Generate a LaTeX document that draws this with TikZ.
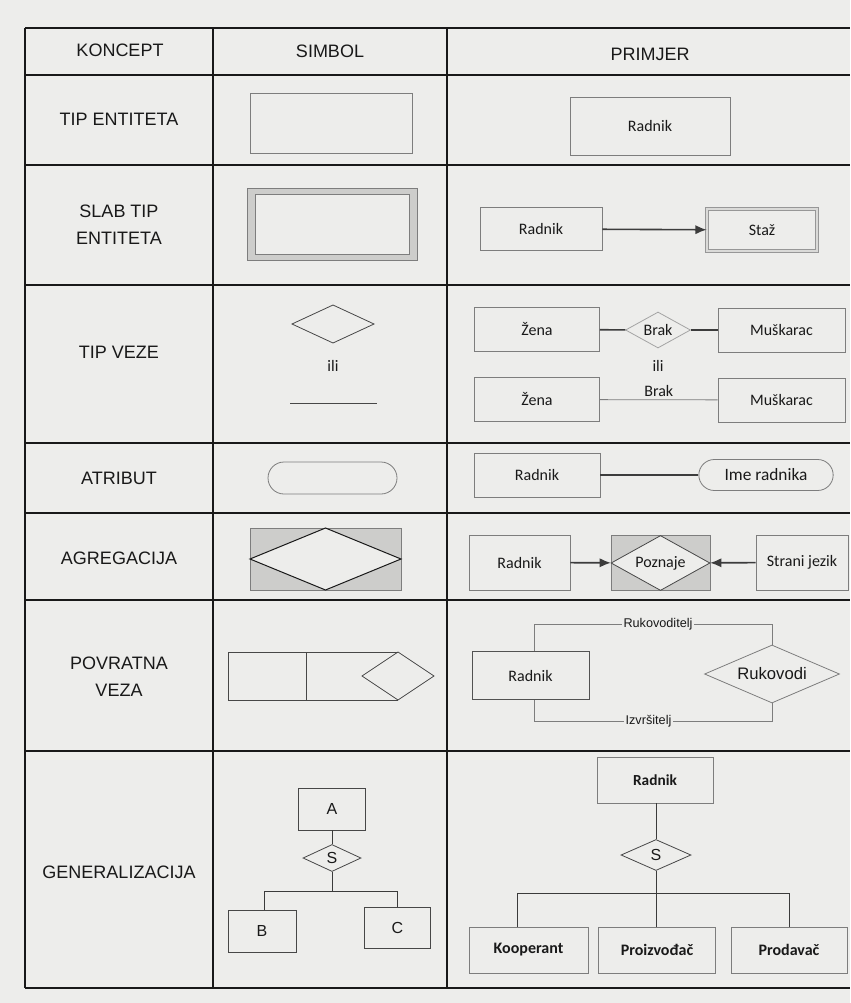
\documentclass[tikz,border=0pt]{standalone}
\usepackage{fontspec}
\setmainfont{Liberation Sans}
\newfontfamily\calibri{Carlito}
\usetikzlibrary{shapes.geometric,shapes.misc,arrows.meta}

\definecolor{paper}{RGB}{237,237,235}
\definecolor{ink}{RGB}{25,25,25}
\definecolor{boxline}{RGB}{125,125,125}
\definecolor{shade}{RGB}{205,205,203}

\tikzset{every picture/.style={line width=0.75pt}}
\tikzset{
  grid line/.style={draw=ink, line width=1.3pt},
  concept/.style={font=\fontsize{13.5}{20}\selectfont, text=ink, align=center, inner sep=0.75pt},
  ent/.style={draw=boxline, line width=0.6pt, rectangle, inner sep=1pt, text=ink, font=\calibri\fontsize{12}{14}\selectfont},
  rel/.style={draw=boxline, line width=0.6pt, diamond, aspect=2, inner sep=1pt, text=ink, font=\calibri\fontsize{12}{14}\selectfont},
  sym/.style={draw=ink!80, line width=0.6pt, rectangle, inner sep=1pt, text=ink, font=\fontsize{12}{14}\selectfont},
  link/.style={draw=ink!85, line width=1.2pt},
  thin link/.style={draw=boxline, line width=0.6pt},
  arr/.style={draw=ink!85, line width=1.2pt, -{Latex[length=8.5pt,width=7pt]}},
  rolelabel/.style={fill=paper, inner sep=1pt, text=ink, font=\fontsize{9.5}{11}\selectfont},
}

\begin{document}
\begin{tikzpicture}[x=0.75pt,y=0.75pt,yscale=-1,xscale=1]
\fill[paper] (0,0) rectangle (850,1003);
\useasboundingbox (0,0) rectangle (850,1003);

% Table grid
\foreach \y in {28,75,165,285,443,513,600,751,988}
  \draw[grid line] (25,\y) -- (850,\y);
\foreach \x in {25,213,447}
  \draw[grid line, line width=1pt] (\x,28) -- (\x,988);

% Header
\node[concept] (hKoncept) at (120,50) {KONCEPT};
\node[concept] (hSimbol) at (330,51) {SIMBOL};
\node[concept] (hPrimjer) at (650,54) {PRIMJER};

% Concept column
\node[concept] (cTip) at (119,119) {TIP ENTITETA};
\node[concept] (cSlab) at (119,225) {SLAB TIP\\ENTITETA};
\node[concept] (cVeza) at (119,352) {TIP VEZE};
\node[concept] (cAtribut) at (119,478) {ATRIBUT};
\node[concept] (cAgreg) at (119,558) {AGREGACIJA};
\node[concept] (cPovrat) at (119,677) {POVRATNA\\VEZA};
\node[concept] (cGeneral) at (119,872) {GENERALIZACIJA};

% Tip entiteta
\draw[boxline, line width=0.6pt] (250,93) rectangle (412,153);
\node[ent, minimum width=120pt, minimum height=43.5pt] (radnikA) at (650,126.5) {Radnik};

% Slab tip entiteta
\draw[boxline, fill=shade, line width=0.6pt] (247,188) rectangle (417,260);
\draw[boxline, fill=paper, line width=0.6pt] (255,194) rectangle (409,254);
\node[ent, minimum width=91.5pt, minimum height=32.25pt] (radnikB) at (541,229) {Radnik};
\node[ent, draw=boxline!80, double=shade!60!paper, double distance=1.8pt, line width=0.5pt, minimum width=82.5pt, minimum height=31.5pt] (stazB) at (762,230) {Staž};
\draw[arr] (radnikB) -- (stazB);

% Tip veze
\draw[ink!80, line width=0.6pt] (292,324) -- (333,305) -- (374,324) -- (333,343) -- cycle;
\node[ent, draw=none] (iliA) at (333,366) {ili};
\draw[ink!80, line width=0.75pt] (290,403) -- (377,403);
\node[ent, minimum width=93.75pt, minimum height=33pt] (zenaA) at (537,329.5) {Žena};
\node[rel, draw=boxline!70, minimum width=48.75pt, minimum height=27pt] (brakA) at (658,330) {Brak};
\node[ent, minimum width=95.25pt, minimum height=33pt] (muskA) at (781.5,330) {Muškarac};
\draw[link] (zenaA) -- (brakA);
\draw[link] (brakA) -- (muskA);
\node[ent, draw=none] (iliB) at (658,366) {ili};
\node[ent, minimum width=93.75pt, minimum height=33pt] (zenaB) at (537,399.5) {Žena};
\node[ent, minimum width=95.25pt, minimum height=33pt] (muskB) at (781.5,400) {Muškarac};
\draw[thin link] (zenaB) -- node[ent, draw=none, above=1pt] (brakB) {Brak} (muskB);

% Atribut
\draw[boxline, line width=0.6pt, rounded corners=12pt] (268,462) rectangle (397,494);
\node[ent, minimum width=94.5pt, minimum height=33pt] (radnikD) at (537,475) {Radnik};
\node[ent, rounded rectangle, minimum width=102.75pt, minimum height=23.25pt, font=\calibri\fontsize{13}{15}\selectfont] (imeD) at (766,475) {Ime radnika};
\draw[link] (radnikD) -- (imeD);

% Agregacija
\draw[boxline, fill=shade, line width=0.6pt] (250,528) rectangle (401,590);
\draw[ink, fill=paper, line width=0.75pt] (250,559) -- (325.5,528) -- (401,559) -- (325.5,590) -- cycle;
\node[ent, minimum width=75.75pt, minimum height=41.25pt] (radnikE) at (519.5,562.5) {Radnik};
\node[ent, fill=shade, minimum width=74.25pt, minimum height=41.25pt] (poznajeBox) at (660.5,563) {};
\node[rel, draw=ink!80, fill=paper, minimum width=74.25pt, minimum height=41.25pt] (poznaje) at (660.5,563) {Poznaje};
\node[ent, minimum width=69pt, minimum height=41.25pt] (straniE) at (802,562.5) {Strani jezik};
\draw[arr] (radnikE) -- (poznaje);
\draw[arr] (straniE) -- (poznaje);

% Povratna veza
\draw[ink!80, line width=0.6pt] (228,652) rectangle (306,700);
\draw[ink!80, line width=0.6pt] (306,652) -- (398,652) (306,700) -- (398,700);
\draw[ink!80, line width=0.6pt] (362,676) -- (398,652) -- (434,676) -- (398,700) -- cycle;
\node[ent, draw=ink!75, minimum width=87.75pt, minimum height=36pt] (radnikF) at (530.5,675.5) {Radnik};
\node[rel, aspect=2.3, minimum width=101.25pt, minimum height=43.5pt, font=\fontsize{12.5}{14}\selectfont] (rukovodi) at (772,674) {Rukovodi};
\draw[thin link] ([xshift=3pt]radnikF.north) -- ++(0,-27) -| node[pos=0.26, rolelabel] (rukovoditelj) {Rukovoditelj} (rukovodi.north);
\draw[thin link] ([xshift=3pt]radnikF.south) -- ++(0,21) -| node[pos=0.24, rolelabel] (izvrsitelj) {Izvršitelj} (rukovodi.south);

% Generalizacija
\node[sym, minimum width=50.25pt, minimum height=31.5pt] (symA) at (332,809) {A};
\node[sym, diamond, aspect=2, minimum width=43.5pt, minimum height=20.25pt] (symS) at (332,858) {S};
\node[sym, minimum width=51pt, minimum height=31.5pt] (symB) at (262,931) {B};
\node[sym, minimum width=49.5pt, minimum height=30.75pt] (symC) at (397.5,928) {C};
\coordinate (barA) at (332,891);
\draw[ink!85, line width=0.6pt] (symA) -- (symS);
\draw[ink!85, line width=0.6pt] (symS) -- (barA);
\draw[ink!85, line width=0.6pt] ([xshift=2pt]symB.north) |- (barA) -| (symC.north);

\node[ent, minimum width=87pt, minimum height=34.5pt, font=\calibri\bfseries\fontsize{11.5}{13}\selectfont] (radnikG) at (655,780) {Radnik};
\node[rel, draw=ink!80, minimum width=52.5pt, minimum height=23.25pt, font=\fontsize{12}{14}\selectfont] (genS) at (656,855) {S};
\node[ent, minimum width=89.25pt, minimum height=34.5pt, font=\calibri\bfseries\fontsize{12}{14}\selectfont] (kooperant) at (528.5,950) {Kooperant};
\node[ent, minimum width=87.75pt, minimum height=34.5pt, font=\calibri\bfseries\fontsize{12}{14}\selectfont] (proizvodjac) at (657,950) {Proizvođač};
\node[ent, minimum width=87pt, minimum height=34.5pt, font=\calibri\bfseries\fontsize{12}{14}\selectfont] (prodavac) at (789,950) {Prodavač};
\coordinate (barG) at (656,893);
\draw[ink!85, line width=0.6pt] (radnikG.south -| genS.north) -- (genS);
\draw[ink!85, line width=0.6pt] (genS.south) -- (genS.south |- proizvodjac.north);
\draw[ink!85, line width=0.6pt] ([xshift=-8.5pt]kooperant.north) |- (barG) -| (prodavac.north);

\end{tikzpicture}
\end{document}
